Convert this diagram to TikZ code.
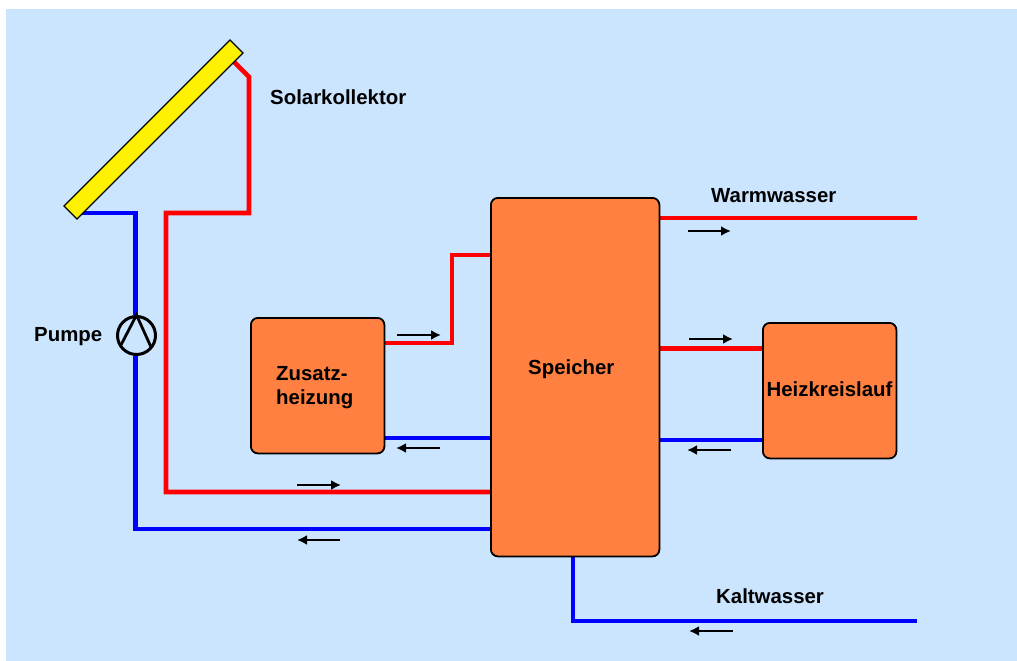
\documentclass[tikz,border=0pt]{standalone}
\usepackage{fontspec}
\setmainfont{Liberation Sans}
\usetikzlibrary{arrows.meta}
\definecolor{skyback}{HTML}{CCE5FF}
\definecolor{boxorange}{HTML}{FF8040}
\pgfdeclarelayer{pipes}
\pgfsetlayers{pipes,main}
\tikzset{
  unit/.style={draw=black,line width=1.8pt,fill=boxorange,rounded corners=7pt,inner sep=0pt,anchor=north west},
  redpipe/.style={draw=red,line width=4.6pt,line join=miter},
  bluepipe/.style={draw=blue,line width=4.6pt,line join=miter},
  flow/.style={draw=black,line width=2.5pt,-{Latex[length=10pt,width=10pt]}},
  caption/.style={font=\fontsize{20.4}{24}\selectfont\bfseries,inner sep=0pt,text=black},
}
\begin{document}
\begin{tikzpicture}[x=1pt,y=-1pt]
\useasboundingbox (0,0) rectangle (1017,661);
% units
\node[draw=black,line width=1.2pt,fill=yellow,minimum width=234.8pt,minimum height=18.4pt,inner sep=0pt,rotate=45] (collector) at (153.5,129.5) {};
\node[unit,minimum width=168.5pt,minimum height=358.5pt] (speicher) at (490,197) {};
\node[unit,minimum width=133.5pt,minimum height=135.5pt] (zusatz) at (250,317) {};
\node[unit,minimum width=133.5pt,minimum height=135.5pt] (heiz) at (762,322) {};
\node[draw=black,line width=3pt,circle,minimum size=38pt,inner sep=0pt] (pumpe) at (136.5,335.5) {};
% pump symbol
\coordinate (pl) at (121,345);
\coordinate (pr) at (151,347);
\draw[black,line width=2.8pt] (pl) -- (pumpe.north) -- (pr);
% texts
\node[caption,anchor=west] (t1) at (270,97) {Solarkollektor};
\node[caption,anchor=west] (t2) at (711,196) {Warmwasser};
\node[caption,anchor=west] (t3) at (716,596) {Kaltwasser};
\node[caption,anchor=west] (t4) at (34,336.5) {Pumpe};
\node[caption,anchor=west] (t5) at (528,369) {Speicher};
\node[caption,anchor=west,align=left] (t6) at (276,387.5) {Zusatz-\\heizung};
\node[caption,anchor=center] (t7) at (829.5,389) {Heizkreislauf};
% pipe coordinates
\coordinate (cr) at (233,61);
\coordinate (cr1) at (249,77);
\coordinate (cr2) at (249,213);
\coordinate (cr3) at (166,213);
\coordinate (cr4) at (166,492);
\coordinate (cb) at (80,213);
\coordinate (cb1) at (135.5,213);
\coordinate (cb2) at (135.5,529);
\coordinate (z1) at (452,343);
\coordinate (z2) at (452,255);
\coordinate (zb) at (490,438);
\coordinate (hr) at (762,348.5);
\coordinate (hb) at (762,440);
\coordinate (ww) at (917,218);
\coordinate (kw1) at (573,621);
\coordinate (kw2) at (917,621);
\begin{pgfonlayer}{pipes}
\fill[skyback] (6,9) rectangle (1017,661);
\draw[redpipe] (cr) -- (cr1) -- (cr2) -- (cr3) -- (cr4) -- (cr4 -| speicher.west);
\draw[bluepipe] (cb) -- (cb1) -- (cb1 |- pumpe.north);
\draw[bluepipe] (cb2 |- pumpe.south) -- (cb2) -- (cb2 -| speicher.west);
\draw[redpipe] (z1 -| zusatz.east) -- (z1) -- (z2) -- (z2 -| speicher.west);
\draw[bluepipe] (zb -| zusatz.east) -- (zb -| speicher.west);
\draw[redpipe] (hr -| speicher.east) -- (hr -| heiz.west);
\draw[bluepipe] (hb -| speicher.east) -- (hb -| heiz.west);
\draw[redpipe] (ww -| speicher.east) -- (ww);
\draw[bluepipe] (speicher.south -| kw1) -- (kw1) -- (kw2);
\end{pgfonlayer}
% flow arrows
\coordinate (a1a) at (688,231); \coordinate (a1b) at (731,231);
\coordinate (a2a) at (689,339); \coordinate (a2b) at (733,339);
\coordinate (a3a) at (731,450); \coordinate (a3b) at (687,450);
\coordinate (a4a) at (397,335); \coordinate (a4b) at (441,335);
\coordinate (a5a) at (440,448); \coordinate (a5b) at (396,448);
\coordinate (a6a) at (297,485); \coordinate (a6b) at (341,485);
\coordinate (a7a) at (340,540); \coordinate (a7b) at (297,540);
\coordinate (a8a) at (733,631); \coordinate (a8b) at (689,631);
\foreach \n in {1,...,8} \draw[flow] (a\n a) -- (a\n b);
\end{tikzpicture}
\end{document}
